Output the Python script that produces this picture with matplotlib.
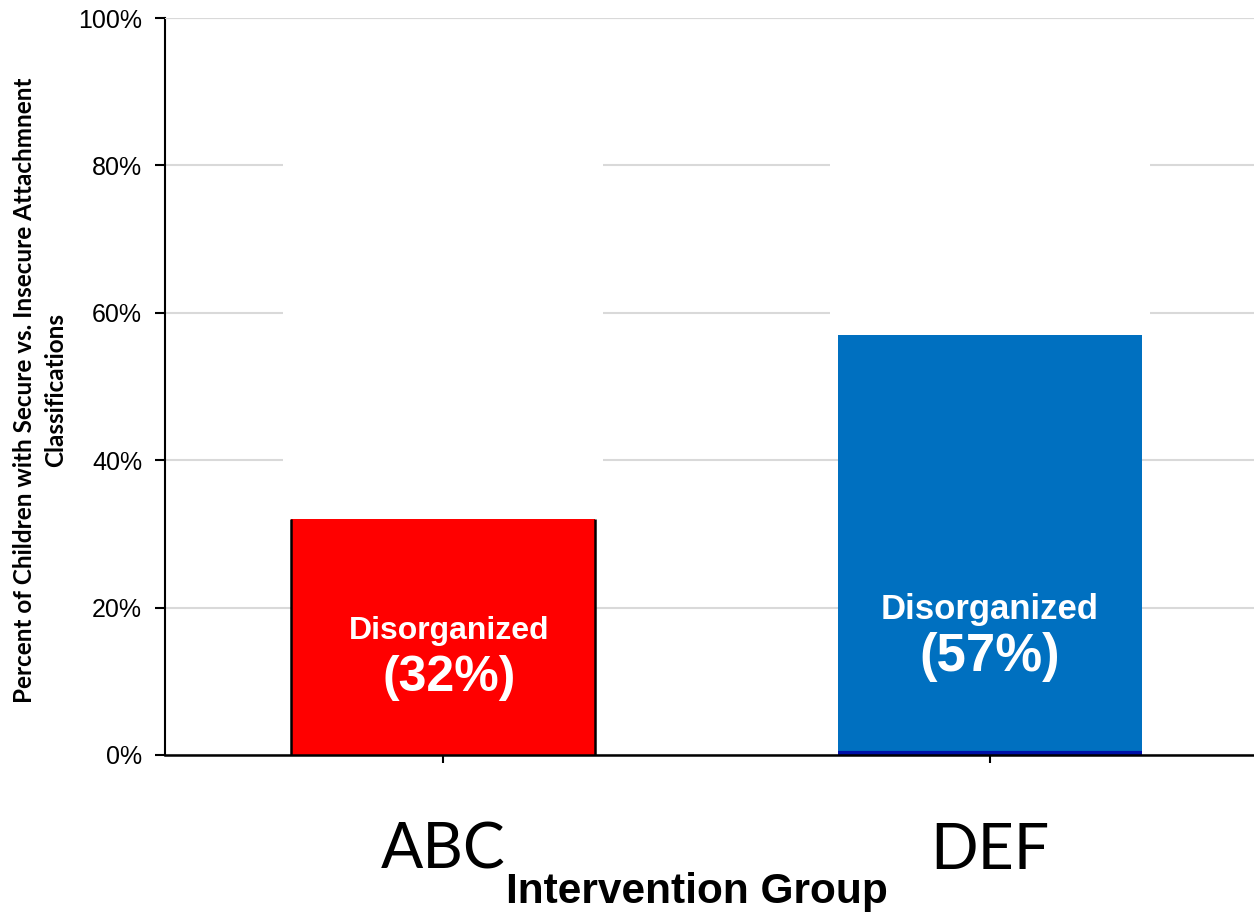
import numpy as np
import matplotlib.pyplot as plt

groups = ['ABC', 'DEF']
disorganized = [32, 57]
bar_colors = ['#ff0000', '#0070c0']
yticks = [0, 20, 40, 60, 80, 100]

fig = plt.figure(figsize=(12.54, 9.14), dpi=100)
ax = fig.add_axes([0.1316, 0.174, 0.8684, 0.8063])

x = np.arange(len(groups))
width = 0.556

# white remainder on top of each bar hides the gridlines behind it
rest = [97 - v for v in disorganized]
ax.bar(x, rest, width=width + 0.03, bottom=disorganized, color='white', zorder=2)
bars = ax.bar(x, disorganized, width=width, color=bar_colors, zorder=3)

# dark side edges on the ABC bar
p = bars[0]
ax.vlines([p.get_x(), p.get_x() + p.get_width()], 0, p.get_height(),
          color='black', lw=1.8, zorder=4)
# dark blue base on the DEF bar
p = bars[1]
ax.hlines(0.3, p.get_x(), p.get_x() + p.get_width(), color='#0010a8', lw=3, zorder=4)

# value labels inside the bars
lab_y = [(16.8, 10.4), (19.8, 13.3)]
lab_size = [(23, 36), (25, 38)]
lab_dx = [0.012, 0.0]
for i, v in enumerate(disorganized):
    ax.text(x[i] + lab_dx[i], lab_y[i][0], 'Disorganized', color='white',
            fontsize=lab_size[i][0], fontweight='bold', family='Liberation Sans',
            ha='center', va='center', zorder=5)
    ax.text(x[i] + lab_dx[i], lab_y[i][1], '(%d%%)' % v, color='white',
            fontsize=lab_size[i][1], fontweight='bold', family='Liberation Sans',
            ha='center', va='center', zorder=5)

ax.set_xlim(-0.508, 1.483)
ax.set_ylim(0, 100)
ax.set_yticks(yticks)
ax.set_yticklabels(['%d%%' % t for t in yticks], fontsize=18, family='Liberation Sans')
ax.set_xticks(x)
ax.set_xticklabels(groups, fontsize=45, family='Lato')
ax.tick_params(axis='y', direction='out', length=7, width=1.5, pad=9.5)
ax.tick_params(axis='x', direction='out', length=6, width=1.5, pad=42)

ax.grid(axis='y', color='#d9d9d9', lw=1.5, zorder=0)
ax.axhline(100, color='#d9d9d9', lw=1.5, zorder=5)
ax.set_axisbelow(True)

for s in ['top', 'right']:
    ax.spines[s].set_visible(False)
ax.spines['left'].set_linewidth(1.5)
ax.spines['bottom'].set_linewidth(1.8)
ax.spines['bottom'].set_zorder(6)

ax.set_ylabel('Percent of Children with Secure vs. Insecure Attachmnent\nClassifications',
              fontsize=17.5, fontweight='bold', family='Lato', va='center',
              linespacing=1.45)
ax.yaxis.set_label_coords(-0.115, 0.495)
fig.text(0.556, 0.024, 'Intervention Group', fontsize=30.5, fontweight='bold',
         family='Liberation Sans', ha='center', va='center')

fig.savefig('out.png', dpi=100)
